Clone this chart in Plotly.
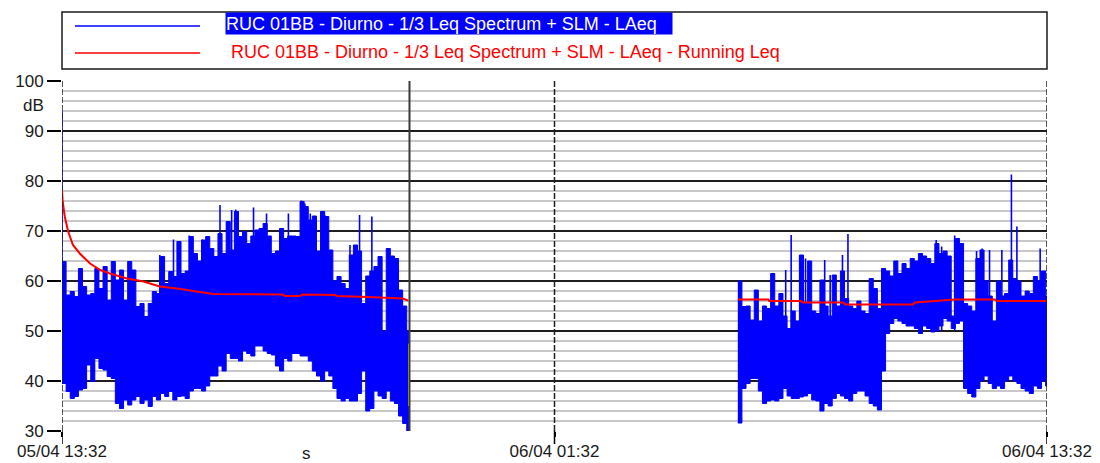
import plotly.graph_objects as go
import pandas as pd

# ---------------- data ----------------
X_START = "2024-04-05 13:32"
X_END = "2024-04-06 13:32"
x_tickvals = ["2024-04-05 13:32", "2024-04-06 01:32", "2024-04-06 13:32"]
x_ticktext = ["05/04 13:32", "06/04 01:32", "06/04 13:32"]
period_boundary = "2024-04-05 22:00"
y_tickvals = [30, 40, 50, 60, 70, 80, 90, 100]

series_laeq = "RUC 01BB - Diurno - 1/3 Leq Spectrum + SLM - LAeq"
series_run = "RUC 01BB - Diurno - 1/3 Leq Spectrum + SLM - LAeq - Running Leq"

# LAeq, 6-minute envelope (top / bottom of the dense trace)
step = "6min"
seg1_start, seg1_end = "2024-04-05 13:32", "2024-04-05 22:00"
seg1_hi = [63.9, 57.2, 57.9, 56.9, 62.5, 58.9, 57.2, 57.5, 62.5, 58.5,
           62.9, 56.2, 63.9, 60.2, 62.2, 56.2, 63.9, 62.2, 54.9, 55.5,
           52.9, 55.5, 57.9, 57.5, 64.9, 59.5, 61.9, 60.9, 67.9, 61.5,
           62.0, 68.9, 65.5, 64.0, 68.2, 68.9, 66.5, 64.9, 69.5, 65.5,
           71.9, 66.2, 73.9, 68.9, 69.9, 67.5, 69.0, 70.2, 70.5, 71.5,
           69.0, 65.5, 66.0, 70.5, 68.5, 69.0, 69.0, 68.9, 75.9, 74.9,
           72.2, 73.0, 66.0, 73.9, 72.9, 66.2, 60.0, 60.9, 59.5, 58.5,
           65.2, 67.2, 66.0, 55.5, 61.0, 62.0, 62.9, 64.9, 50.0, 66.5,
           65.0, 64.5, 58.2, 55.0, 50.0]
seg1_lo = [39.5, 37.9, 36.5, 36.9, 38.2, 38.5, 43.2, 39.9, 44.5, 42.5,
           42.2, 40.9, 40.5, 35.5, 34.5, 36.2, 35.2, 36.2, 36.9, 35.5,
           36.2, 34.9, 36.9, 36.2, 37.5, 36.9, 37.9, 36.2, 36.9, 37.0,
           36.5, 38.0, 38.5, 38.5, 38.0, 39.0, 41.0, 41.0, 43.0, 42.0,
           45.5, 44.5, 44.5, 44.0, 46.0, 45.5, 45.0, 47.0, 47.0, 46.0,
           45.5, 45.2, 43.0, 42.0, 44.5, 44.0, 45.5, 45.5, 45.0, 45.0,
           44.0, 42.0, 41.0, 40.0, 42.0, 41.0, 38.5, 36.5, 36.0, 36.5,
           36.0, 36.0, 37.5, 42.0, 34.0, 34.5, 38.0, 37.0, 36.5, 38.0,
           36.0, 35.5, 33.0, 31.5, 30.0]

seg2_start, seg2_end = "2024-04-06 06:00", "2024-04-06 13:32"
seg2_hi = [60.0, 54.9, 55.0, 52.2, 58.2, 52.0, 55.0, 54.5, 61.5, 55.0,
           57.5, 53.0, 50.5, 54.0, 52.0, 65.2, 55.5, 64.0, 54.0, 53.5,
           60.2, 55.0, 53.0, 61.2, 55.0, 62.0, 56.5, 55.0, 54.5, 56.0,
           54.0, 53.5, 60.5, 58.5, 54.5, 62.5, 62.0, 61.0, 64.0, 61.5,
           63.5, 62.5, 64.5, 64.0, 65.5, 65.0, 64.5, 63.5, 67.5, 65.5,
           66.0, 65.0, 53.0, 68.5, 67.5, 55.5, 55.0, 54.0, 64.5, 66.2,
           60.0, 57.0, 52.0, 60.0, 57.0, 57.5, 64.2, 60.5, 60.0, 57.0,
           58.0, 57.5, 60.9, 60.0, 62.0, 57.0]
seg2_lo = [31.6, 38.5, 39.5, 40.5, 40.5, 38.0, 35.5, 36.0, 36.2, 36.0,
           36.5, 38.5, 37.0, 36.5, 36.5, 36.8, 37.0, 37.5, 36.2, 36.0,
           34.0, 35.5, 35.0, 36.5, 37.5, 37.0, 36.5, 36.0, 37.5, 38.0,
           38.0, 37.0, 35.5, 35.0, 34.2, 42.0, 49.5, 51.5, 52.5, 52.0,
           51.5, 51.0, 51.0, 50.5, 49.5, 51.0, 50.5, 49.8, 50.0, 51.0,
           52.5, 52.0, 50.5, 51.5, 52.0, 38.5, 37.5, 36.8, 38.5, 40.0,
           41.0, 39.5, 38.5, 39.0, 38.5, 40.0, 41.0, 40.0, 39.5, 38.5,
           38.0, 37.5, 39.0, 38.5, 40.0, 39.0]

# isolated LAeq peaks
spike_times = ["2024-04-05 13:32", "2024-04-05 15:55", "2024-04-05 16:15", "2024-04-05 16:38",
               "2024-04-05 16:57", "2024-04-05 17:23", "2024-04-05 17:34", "2024-04-05 17:40",
               "2024-04-05 17:46", "2024-04-05 18:12", "2024-04-05 18:31", "2024-04-05 19:03",
               "2024-04-05 19:22", "2024-04-05 19:27", "2024-04-05 19:35", "2024-04-05 19:51",
               "2024-04-05 19:56", "2024-04-05 20:33", "2024-04-05 20:47", "2024-04-05 21:05",
               "2024-04-05 21:29",
               "2024-04-06 07:10", "2024-04-06 07:18", "2024-04-06 07:31", "2024-04-06 07:39",
               "2024-04-06 08:07", "2024-04-06 08:15", "2024-04-06 08:33", "2024-04-06 08:41",
               "2024-04-06 10:50", "2024-04-06 10:58", "2024-04-06 11:17", "2024-04-06 11:49",
               "2024-04-06 11:57", "2024-04-06 12:08", "2024-04-06 12:26", "2024-04-06 12:40",
               "2024-04-06 12:48", "2024-04-06 13:22"]
spike_vals = [94.0, 65.2, 68.3, 69.1, 68.3, 75.2, 71.9, 74.2, 74.3, 74.7, 73.5, 73.5,
              76.1, 75.5, 73.5, 73.9, 73.2, 67.2, 73.2, 72.9, 66.5,
              62.2, 69.2, 65.2, 64.5, 64.2, 61.2, 65.2, 69.4, 68.2, 66.9, 69.1, 66.0,
              66.5, 66.2, 66.2, 81.3, 70.9, 66.5]

# Running Leq
run1_t = ["2024-04-05 13:32", "2024-04-05 13:33", "2024-04-05 13:36", "2024-04-05 13:41",
          "2024-04-05 13:48", "2024-04-05 13:58", "2024-04-05 14:13", "2024-04-05 14:28",
          "2024-04-05 14:42", "2024-04-05 15:07", "2024-04-05 15:31", "2024-04-05 15:55",
          "2024-04-05 16:20", "2024-04-05 16:46", "2024-04-05 17:13", "2024-04-05 18:54",
          "2024-04-05 18:58", "2024-04-05 19:20", "2024-04-05 19:23", "2024-04-05 20:11",
          "2024-04-05 20:14", "2024-04-05 20:59", "2024-04-05 21:50", "2024-04-05 21:58"]
run1_v = [78.2, 75.9, 72.9, 69.9, 67.2, 65.5, 63.5, 62.2, 61.5, 60.5, 59.9, 58.9,
          58.5, 57.9, 57.4, 57.3, 57.0, 57.0, 57.3, 57.2, 57.0, 56.8, 56.5, 56.1]
run2_t = ["2024-04-06 06:00", "2024-04-06 06:45", "2024-04-06 06:46", "2024-04-06 07:33",
          "2024-04-06 07:35", "2024-04-06 08:34", "2024-04-06 08:37", "2024-04-06 10:16",
          "2024-04-06 10:19", "2024-04-06 10:57", "2024-04-06 11:18", "2024-04-06 12:16",
          "2024-04-06 12:19", "2024-04-06 13:32"]
run2_v = [56.3, 56.3, 56.0, 56.0, 55.7, 55.7, 55.3, 55.3, 55.7, 56.0, 56.3, 56.3, 56.0, 56.0]

marker_t = ["2024-04-05 21:59", "2024-04-05 21:59"]
marker_v = [35.0, 47.5]

# ---------------- style ----------------
BLUE = "#0000ff"
RED = "#ff0000"
FONT = "Liberation Sans, Arial, sans-serif"
TXT = "#1a1a1a"
W, H = 1100, 463
ML, MR, MT, MB = 62, 53, 81, 32
PW, PH = W - ML - MR, H - MT - MB


def px_x(X):
    return (X - ML) / PW


def px_y(Y):
    return (H - MB - Y) / PH


fig = go.Figure()


def add_segment(start, end, hi, lo):
    t = list(pd.date_range(start, periods=len(hi), freq=step)) + [pd.Timestamp(end)]
    fig.add_trace(go.Scatter(x=t, y=lo + [lo[-1]], mode="lines",
                             line=dict(color=BLUE, width=1, shape="hv"),
                             hoverinfo="skip", showlegend=False))
    fig.add_trace(go.Scatter(x=t, y=hi + [hi[-1]], mode="lines", fill="tonexty",
                             fillcolor=BLUE, line=dict(color=BLUE, width=1, shape="hv"),
                             name=series_laeq, showlegend=False))


add_segment(seg1_start, seg1_end, seg1_hi, seg1_lo)
add_segment(seg2_start, seg2_end, seg2_hi, seg2_lo)

sx, sy = [], []
for t, v in zip(spike_times, spike_vals):
    sx += [t, t, None]
    sy += [50, v, None]
fig.add_trace(go.Scatter(x=sx, y=sy, mode="lines", line=dict(color=BLUE, width=1.6),
                         hoverinfo="skip", showlegend=False))

fig.add_trace(go.Scatter(x=marker_t, y=marker_v, mode="lines",
                         line=dict(color="#e6e600", width=1.5), hoverinfo="skip",
                         showlegend=False))

fig.add_trace(go.Scatter(x=run1_t + [None] + run2_t, y=run1_v + [None] + run2_v,
                         mode="lines", line=dict(color=RED, width=2),
                         name=series_run, showlegend=False))

shapes = []
for tv in x_tickvals:
    shapes.append(dict(type="line", xref="x", yref="paper", x0=tv, x1=tv, y0=0, y1=1,
                       line=dict(color="#202020", width=1.5, dash="6px,2px"), layer="above"))
    # outside tick mark below the plot
    shapes.append(dict(type="line", xref="x", yref="paper", x0=tv, x1=tv, y0=px_y(444),
                       y1=0, line=dict(color="#000000", width=1.5), layer="above"))
shapes.append(dict(type="line", xref="x", yref="paper", x0=period_boundary, x1=period_boundary,
                   y0=0, y1=1, line=dict(color="#3a3a3a", width=2), layer="above"))
# legend frame and samples
shapes.append(dict(type="rect", xref="paper", yref="paper", x0=0, x1=1,
                   y0=px_y(69), y1=px_y(12), line=dict(color="#1a1a1a", width=1.5),
                   fillcolor="white"))
shapes.append(dict(type="line", xref="paper", yref="paper", x0=px_x(75), x1=px_x(200),
                   y0=px_y(26), y1=px_y(26), line=dict(color=BLUE, width=1.5)))
shapes.append(dict(type="line", xref="paper", yref="paper", x0=px_x(75), x1=px_x(200),
                   y0=px_y(53), y1=px_y(53), line=dict(color=RED, width=1.5)))

annotations = [
    dict(text=series_laeq, xref="paper", yref="paper", x=px_x(224.5), y=px_y(23.8),
         xanchor="left", yanchor="middle", showarrow=False, bgcolor=BLUE,
         font=dict(family=FONT, size=18, color="white"), width=446, height=21,
         align="left", borderpad=0),
    dict(text=series_run, xref="paper", yref="paper", x=px_x(229), y=px_y(51.7),
         xanchor="left", yanchor="middle", showarrow=False,
         font=dict(family=FONT, size=18, color=RED)),
    dict(text="dB", xref="paper", yref="paper", x=px_x(46), y=px_y(106),
         xanchor="right", yanchor="middle", showarrow=False,
         font=dict(family=FONT, size=17, color=TXT)),
    dict(text="s", xref="paper", yref="paper", x=px_x(306), y=px_y(454),
         xanchor="center", yanchor="middle", showarrow=False,
         font=dict(family=FONT, size=17, color=TXT)),
]

fig.update_layout(
    width=W, height=H, margin=dict(l=ML, r=MR, t=MT, b=MB, autoexpand=False),
    paper_bgcolor="white", plot_bgcolor="white", showlegend=False,
    shapes=shapes, annotations=annotations,
    font=dict(family=FONT, size=17, color=TXT),
    xaxis=dict(type="date", range=[X_START, X_END], tickmode="array",
               tickvals=x_tickvals, ticktext=x_ticktext, ticks="outside", ticklen=5,
               tickwidth=1.5, tickcolor="#000000", showgrid=False, zeroline=False,
               showline=False, tickfont=dict(family=FONT, size=17, color=TXT), fixedrange=True),
    yaxis=dict(range=[30, 100], tickmode="array", tickvals=y_tickvals, ticks="outside",
               ticklen=14, tickwidth=1.5, tickcolor="#000000", showgrid=True,
               gridcolor="#1e1e1e", gridwidth=1.5, zeroline=False, showline=False,
               tickfont=dict(family=FONT, size=17, color=TXT),
               minor=dict(tick0=30, dtick=2, showgrid=True, gridcolor="#c8c8c8",
                          gridwidth=2, ticks=""), fixedrange=True),
)

fig.write_html("out.html")
